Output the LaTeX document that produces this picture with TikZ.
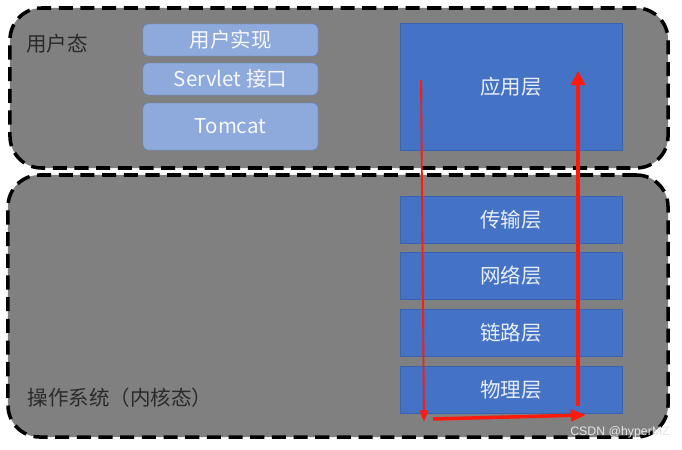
\documentclass[tikz,border=0pt]{standalone}
\usepackage{fontspec}
\setmainfont{Noto Sans CJK SC}
\newfontfamily\wmfont{Liberation Sans}
\usetikzlibrary{arrows.meta,positioning}
\definecolor{cMode}{HTML}{808080}
\definecolor{cUser}{HTML}{8EA9DB}
\definecolor{cUserEdge}{HTML}{5B7FC0}
\definecolor{cLayer}{HTML}{4472C4}
\definecolor{cLayerEdge}{HTML}{3A63AD}
\definecolor{cFlow}{HTML}{FF1A0E}
\definecolor{cLabel}{HTML}{2A2A2A}
\tikzset{
  mode/.style={rectangle, draw=black, fill=cMode, line width=3pt, dash pattern=on 12pt off 6.5pt, rounded corners=0.95cm},
  ubox/.style={rectangle, rounded corners=4pt, draw=cUserEdge, fill=cUser, text=white!92!cUser, minimum width=5.25cm, inner sep=0pt},
  layer/.style={rectangle, draw=cLayerEdge, fill=cLayer, text=white!88!cLayer, minimum width=6.66cm, minimum height=1.41cm, inner sep=0pt},
  lbl/.style={text=cLabel, inner sep=0pt},
  flow/.style={cFlow, line cap=butt},
}
\begin{document}
\begin{tikzpicture}[x=0.03cm, y=-0.03cm, font=\fontsize{17.5}{20}\selectfont]
  \useasboundingbox (0,0) rectangle (682,449);
  % user space and kernel space
  \node[mode, minimum width=19.74cm, minimum height=4.8cm] (user) at (339, 88) {};
  \node[mode, minimum width=19.8cm, minimum height=7.86cm] (kernel) at (338, 306) {};
  \node[lbl] (userlbl) at (57, 44) {用户态};
  \node[lbl] (kernlbl) at (120, 398) {操作系统（内核态）};
  % user side stack
  \node[ubox, minimum height=0.96cm] (impl) at (230.5, 40) {用户实现};
  \node[ubox, minimum height=0.96cm] (servlet) at (230.5, 79) {Servlet 接口};
  \node[ubox, minimum height=1.41cm] (tomcat) at (230.5, 126.5) {Tomcat};
  % network layers
  \node[layer, minimum height=3.81cm] (app) at (511, 86.5) {应用层};
  \node[layer] (trans) at (511, 219.5) {传输层};
  \node[layer] (net) at (511, 275.5) {网络层};
  \node[layer] (link) at (511, 332.5) {链路层};
  \node[layer] (phy) at (511, 389.5) {物理层};
  % data path
  \coordinate (dnA) at (421, 80);
  \coordinate (dnB) at (424, 422);
  \coordinate (acA) at (433, 419);
  \coordinate (acB) at (586, 415);
  \coordinate (upA) at (578, 406);
  \coordinate (upB) at (578, 71);
  \draw[flow, line width=1.6pt, -{Triangle[length=10pt, width=7pt]}] (dnA) -- (dnB);
  \draw[flow, line width=3pt, -{Triangle[length=13pt, width=10pt]}] (acA) -- (acB);
  \draw[flow, line width=4pt, -{Triangle[length=12pt, width=12pt]}] (upA) -- (upB);
  \node[text=white!90!black, font=\wmfont\fontsize{10.5}{12}\selectfont, inner sep=0pt] (mark) at (620, 432) {CSDN @hyperMZ};
\end{tikzpicture}
\end{document}
